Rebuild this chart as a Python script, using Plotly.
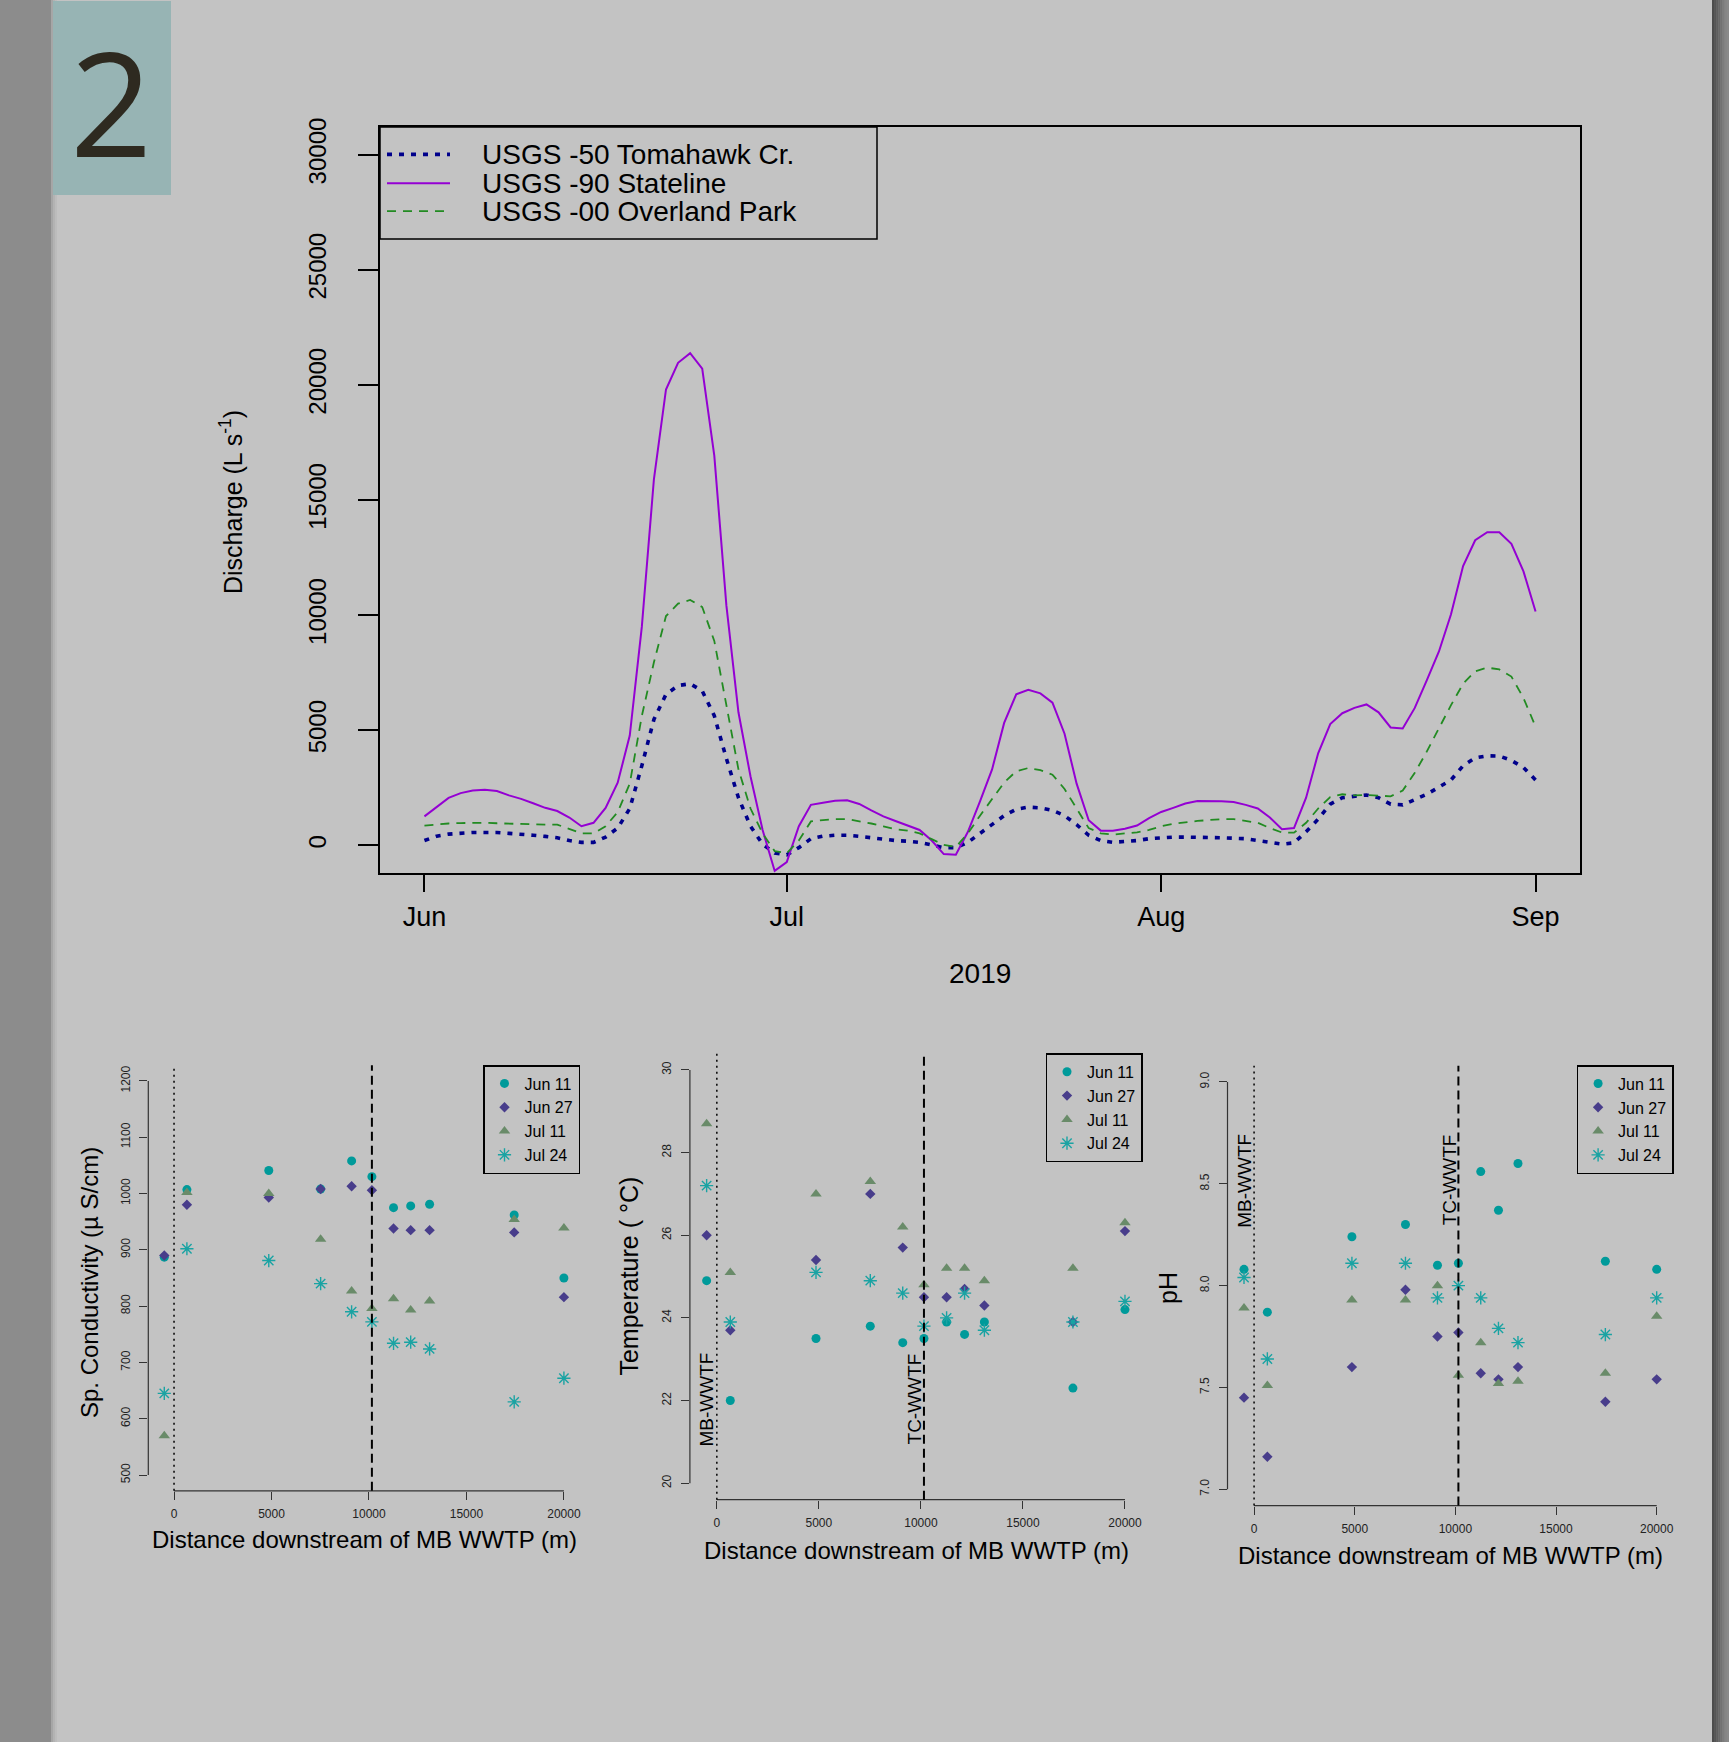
import pandas as pd
import plotly.graph_objects as go

# ---------------------------------------------------------------- data
# Daily discharge (L/s), 1 Jun 2019 .. 1 Sep 2019
dates = pd.date_range("2019-06-01", "2019-09-01", freq="D")

tomahawk = [210, 400, 490, 540, 560, 560, 560, 520, 490, 440, 390, 330, 210, 130, 130,
            360, 750, 1600, 3460, 5470, 6560, 6940, 7020, 6710, 5630, 3770, 2070, 830, 50, -330,
            -410, -100, 290, 400, 440, 440, 390, 330, 250, 210, 180, 130, 20, -100, -100,
            130, 520, 900, 1290, 1570, 1660, 1630, 1520, 1290, 900, 440, 210, 130, 160, 210,
            290, 330, 360, 360, 360, 350, 330, 310, 290, 210, 130, 50, 110, 590, 1140,
            1790, 2070, 2140, 2190, 2070, 1790, 1760, 1990, 2220, 2530, 2840, 3460, 3800, 3890, 3880,
            3690, 3380, 2840]

stateline = [1260, 1680, 2060, 2270, 2380, 2420, 2360, 2170, 2020, 1830, 1630, 1490, 1210, 830, 980,
             1630, 2720, 4770, 9500, 15900, 19800, 20960, 21380, 20710, 16930, 10420, 5780, 2990, 670, -1110,
             -730, 830, 1760, 1850, 1940, 1960, 1800, 1520, 1260, 1060, 870, 670, 210, -380, -410,
             590, 1910, 3300, 5320, 6560, 6760, 6600, 6200, 4850, 2680, 1090, 640, 640, 720, 860,
             1180, 1450, 1630, 1820, 1930, 1940, 1920, 1880, 1760, 1600, 1210, 700, 750, 2070, 4000,
             5270, 5740, 5970, 6120, 5780, 5120, 5080, 5970, 7180, 8420, 10040, 12130, 13250, 13600, 13600,
             13100, 11900, 10160]

overland = [860, 920, 950, 970, 980, 980, 960, 940, 920, 900, 900, 900, 720, 520, 520,
            830, 1440, 2680, 5620, 7950, 9960, 10500, 10660, 10350, 8880, 6090, 3300, 1600, 520, -250,
            -340, 210, 1040, 1100, 1140, 1140, 1060, 950, 830, 700, 640, 520, 270, 20, -70,
            520, 1290, 1990, 2730, 3220, 3360, 3270, 3070, 2450, 1600, 750, 520, 470, 520, 560,
            670, 830, 940, 1010, 1060, 1100, 1140, 1140, 1070, 980, 750, 560, 550, 980, 1600,
            2100, 2220, 2170, 2190, 2160, 2130, 2380, 3150, 4080, 5080, 6090, 7020, 7560, 7720, 7640,
            7330, 6400, 5160]

gauge_names = ["USGS -50 Tomahawk Cr.", "USGS -90 Stateline", "USGS -00 Overland Park"]
month_ticks = ["2019-06-01", "2019-07-01", "2019-08-01", "2019-09-01"]
month_labels = ["Jun", "Jul", "Aug", "Sep"]
discharge_ticks = [0, 5000, 10000, 15000, 20000, 25000, 30000]

# Synoptic survey sites: distance downstream of the MB WWTP (m)
distance = [-500, 660, 4860, 7520, 9110, 10150, 11260, 12140, 13110, 17450, 20000]
distance_ticks = [0, 5000, 10000, 15000, 20000]
mb_wwtf = 0
tc_wwtf = 10150
survey_dates = ["Jun 11", "Jun 27", "Jul 11", "Jul 24"]

cond_jun11 = [887, 1007, 1041, 1008, 1058, 1030, 975, 978, 981, 962, 850]
cond_jun27 = [890, 980, 993, 1008, 1013, 1006, 938, 935, 935, 931, 816]
cond_jul11 = [570, 1002, 1000, 919, 827, 796, 813, 793, 809, 954, 939]
cond_jul24 = [645, 902, 881, 840, 790, 772, 734, 736, 724, 630, 672]
cond_ticks = [500, 600, 700, 800, 900, 1000, 1100, 1200]

temp_jun11 = [24.9, 22.0, 23.5, 23.8, 23.4, 23.5, 23.9, 23.6, 23.9, 22.3, 24.2]
temp_jun27 = [26.0, 23.7, 25.4, 27.0, 25.7, 24.5, 24.5, 24.7, 24.3, 23.9, 26.1]
temp_jul11 = [28.7, 25.1, 27.0, 27.3, 26.2, 24.8, 25.2, 25.2, 24.9, 25.2, 26.3]
temp_jul24 = [27.2, 23.9, 25.1, 24.9, 24.6, 23.8, 24.0, 24.6, 23.7, 23.9, 24.4]
temp_ticks = [20, 22, 24, 26, 28, 30]

ph_jun11 = [8.08, 7.87, 8.24, 8.30, 8.10, 8.11, 8.56, 8.37, 8.60, 8.12, 8.08]
ph_jun27 = [7.45, 7.16, 7.60, 7.98, 7.75, 7.77, 7.57, 7.54, 7.60, 7.43, 7.54]
ph_jul11 = [7.89, 7.51, 7.93, 7.93, 8.00, 7.56, 7.72, 7.52, 7.53, 7.57, 7.85]
ph_jul24 = [8.04, 7.64, 8.11, 8.11, 7.94, 8.00, 7.94, 7.79, 7.72, 7.76, 7.94]
ph_ticks = [7.0, 7.5, 8.0, 8.5, 9.0]

# ---------------------------------------------------------------- page geometry helpers
W, H = 1729, 1742
FONT = "Liberation Sans, Arial, sans-serif"


def px(x):
    return x / W


def py(y):
    return 1 - y / H


def padded(lo, hi, frac=0.04):
    d = (hi - lo) * frac
    return [lo - d, hi + d]


fig = go.Figure()

# ---------------------------------------------------------------- discharge hydrograph
line_styles = [
    dict(color="#00008B", width=3.6, dash="5px,7px"),
    dict(color="#9400D3", width=2),
    dict(color="#228B22", width=1.8, dash="9px,7px"),
]
for name, vals, style in zip(gauge_names, [tomahawk, stateline, overland], line_styles):
    fig.add_trace(go.Scatter(x=dates, y=vals, mode="lines", name=name, line=style,
                             showlegend=False, xaxis="x", yaxis="y"))

# ---------------------------------------------------------------- longitudinal profiles
marker_styles = [
    dict(symbol="circle", size=9, color="#009a9a"),
    dict(symbol="diamond", size=8, color="#483D8B"),
    dict(symbol="triangle-up", size=10, color="#698B69"),
    dict(symbol="asterisk-open", size=11, color="#1aa3a3", line=dict(color="#1aa3a3", width=1.4)),
]
panels = [
    ("x2", "y2", "legend", [cond_jun11, cond_jun27, cond_jul11, cond_jul24]),
    ("x3", "y3", "legend2", [temp_jun11, temp_jun27, temp_jul11, temp_jul24]),
    ("x4", "y4", "legend3", [ph_jun11, ph_jun27, ph_jul11, ph_jul24]),
]
for xa, ya, leg, series in panels:
    for name, vals, mk in zip(survey_dates, series, marker_styles):
        fig.add_trace(go.Scatter(x=distance, y=vals, mode="markers", name=name, marker=mk,
                                 xaxis=xa, yaxis=ya, legend=leg, showlegend=True))

# ---------------------------------------------------------------- axes
start = pd.Timestamp("2019-06-01")
end = pd.Timestamp("2019-09-01")
pad = (end - start) * 0.04

main_x = dict(domain=[px(380), px(1580)], anchor="y", type="date", automargin=False,
              range=[start - pad, end + pad], tickvals=month_ticks, ticktext=month_labels,
              ticks="outside", ticklen=17, tickwidth=1.5, tickcolor="black",
              showline=True, mirror=True, linewidth=2, linecolor="black",
              showgrid=False, zeroline=False, ticklabelstandoff=2,
              tickfont=dict(family=FONT, size=27, color="black"))
main_y = dict(domain=[py(873), py(127)], anchor="x", range=padded(0, 30000), automargin=False,
              tickvals=discharge_ticks, ticktext=[str(v) for v in discharge_ticks], tickangle=-90,
              ticks="outside", ticklen=20, tickwidth=1.5, tickcolor="black",
              showline=True, mirror=True, linewidth=2, linecolor="black",
              showgrid=False, zeroline=False, ticklabelstandoff=22,
              tickfont=dict(family=FONT, size=24, color="black"))


def profile_axes(xdom, ydom, xanchor, yanchor, yrange, yticks, yfmt):
    xa = dict(domain=xdom, anchor=yanchor, range=padded(-500, 20000), automargin=False,
              tickvals=distance_ticks, ticktext=[str(v) for v in distance_ticks],
              ticks="outside", ticklen=8, tickwidth=1, tickcolor="#333",
              showline=False, showgrid=False, zeroline=False, ticklabelstandoff=4,
              tickfont=dict(family=FONT, size=12, color="#222"))
    ya = dict(domain=ydom, anchor=xanchor, range=padded(*yrange), automargin=False,
              tickvals=yticks, ticktext=[yfmt.format(v) for v in yticks], tickangle=-90,
              ticks="outside", ticklen=8, tickwidth=1, tickcolor="#333",
              showline=False, showgrid=False, zeroline=False, ticklabelstandoff=5,
              tickfont=dict(family=FONT, size=12, color="#222"))
    return xa, ya


x2, y2 = profile_axes([px(148.3), px(579.9)], [py(1490.8), py(1065.2)], "x2", "y2", (500, 1200), cond_ticks, "{:d}")
x3, y3 = profile_axes([px(689.9), px(1141.7)], [py(1499.7), py(1053.4)], "x3", "y3", (20, 30), temp_ticks, "{:d}")
x4, y4 = profile_axes([px(1227.5), px(1673.2)], [py(1505.6), py(1065.7)], "x4", "y4", (7, 9), ph_ticks, "{:.1f}")

# ---------------------------------------------------------------- shapes
shapes = []
# page background, right-hand shadow and the panel tab
shapes.append(dict(type="rect", xref="paper", yref="paper", x0=px(51), x1=px(1712), y0=0, y1=1,
                   fillcolor="#c3c3c3", line=dict(width=0), layer="below"))
for i, c in enumerate(["#a6a6a6", "#b3b3b3", "#bcbcbc"]):
    shapes.append(dict(type="rect", xref="paper", yref="paper", x0=px(51 + 2 * i), x1=px(53 + 2 * i),
                       y0=0, y1=1, fillcolor=c, line=dict(width=0), layer="below"))
for i, c in enumerate(["#4c4c4c", "#555555", "#5e5e5e", "#686868", "#727272", "#7c7c7c", "#858585", "#8a8a8a"]):
    shapes.append(dict(type="rect", xref="paper", yref="paper", x0=px(1712 + 2.1 * i), x1=px(1714.2 + 2.1 * i),
                       y0=0, y1=1, fillcolor=c, line=dict(width=0), layer="below"))
shapes.append(dict(type="rect", xref="paper", yref="paper", x0=px(53), x1=px(171), y0=py(195), y1=py(1),
                   fillcolor="#97b4b4", line=dict(width=0), layer="below"))

# hydrograph key
shapes.append(dict(type="rect", xref="paper", yref="paper", x0=px(380), x1=px(877), y0=py(239), y1=py(127),
                   line=dict(color="black", width=1.5), fillcolor="rgba(0,0,0,0)"))
key_rows = [154.4, 183.3, 211.1]
for row, style in zip(key_rows, line_styles):
    shapes.append(dict(type="line", xref="paper", yref="paper", x0=px(387), x1=px(450),
                       y0=py(row), y1=py(row), line=style))

# axis lines spanning the tick range, and the two treatment-plant markers
for xa, ya, yticks in [("x2", "y2", cond_ticks), ("x3", "y3", temp_ticks), ("x4", "y4", ph_ticks)]:
    shapes.append(dict(type="line", xref=xa + " domain", yref=ya, x0=0, x1=0,
                       y0=yticks[0], y1=yticks[-1], line=dict(color="#333", width=1.2)))
    shapes.append(dict(type="line", xref=xa, yref=ya + " domain", x0=distance_ticks[0], x1=distance_ticks[-1],
                       y0=0, y1=0, line=dict(color="#333", width=1.2)))
    shapes.append(dict(type="line", xref=xa, yref=ya + " domain", x0=mb_wwtf, x1=mb_wwtf, y0=0, y1=1,
                       line=dict(color="black", width=1.5, dash="2px,4px")))
    shapes.append(dict(type="line", xref=xa, yref=ya + " domain", x0=tc_wwtf, x1=tc_wwtf, y0=0, y1=1,
                       line=dict(color="black", width=2, dash="9px,5px")))

# ---------------------------------------------------------------- text
def note(text, x, y, size, angle=0, xanchor="center", yanchor="middle", color="black", family=FONT,
         xref="paper", yref="paper"):
    return dict(text=text, x=x, y=y, xref=xref, yref=yref, showarrow=False, textangle=angle,
                xanchor=xanchor, yanchor=yanchor, font=dict(family=family, size=size, color=color))


annotations = [
    note("2", px(111), py(101), 144, family="Open Sans, sans-serif", color="#2e2a20"),
    note("Discharge (L s<sup>-1</sup>)", px(231), py(502), 25, angle=-90),
    note("2019", px(980), py(973), 28),
]
for row, name in zip(key_rows, gauge_names):
    annotations.append(note(name, px(480), py(row), 28, xanchor="left"))

xlabel = "Distance downstream of MB WWTP (m)"
annotations += [
    note("Sp. Conductivity (µ S/cm)", px(89), py(1283), 24, angle=-90),
    note(xlabel, px(364.4), py(1539), 24),
    note("Temperature ( °C)", px(628.6), py(1276), 25, angle=-90),
    note(xlabel, px(916), py(1550), 24),
    note("pH", px(1168), py(1288), 25, angle=-90),
    note(xlabel, px(1450), py(1555.5), 24),
    note("MB-WWTF", -525, 20.84, 19, angle=-90, yanchor="bottom", xref="x3", yref="y3"),
    note("TC-WWTF", 9670, 20.88, 19, angle=-90, yanchor="bottom", xref="x3", yref="y3"),
    note("MB-WWTF", -482, 8.276, 19, angle=-90, yanchor="bottom", xref="x4", yref="y4"),
    note("TC-WWTF", 9692, 8.285, 19, angle=-90, yanchor="bottom", xref="x4", yref="y4"),
]


def key(x_right, y_top):
    return dict(x=px(x_right), y=py(y_top), xref="paper", yref="paper", xanchor="right", yanchor="top",
                bgcolor="rgba(0,0,0,0)", bordercolor="black", borderwidth=1.5,
                font=dict(family=FONT, size=16, color="black"), itemwidth=30, tracegroupgap=0)


fig.update_layout(
    width=W, height=H, margin=dict(l=0, r=0, t=0, b=0, pad=0, autoexpand=False), autosize=False,
    paper_bgcolor="#8c8c8c", plot_bgcolor="rgba(0,0,0,0)",
    font=dict(family=FONT, color="black"),
    xaxis=main_x, yaxis=main_y, xaxis2=x2, yaxis2=y2, xaxis3=x3, yaxis3=y3, xaxis4=x4, yaxis4=y4,
    legend=key(580, 1065), legend2=key(1142.5, 1053.4), legend3=key(1673.6, 1065.1),
    shapes=shapes, annotations=annotations, showlegend=True,
)

fig.write_html("out.html", config=dict(displayModeBar=False))
